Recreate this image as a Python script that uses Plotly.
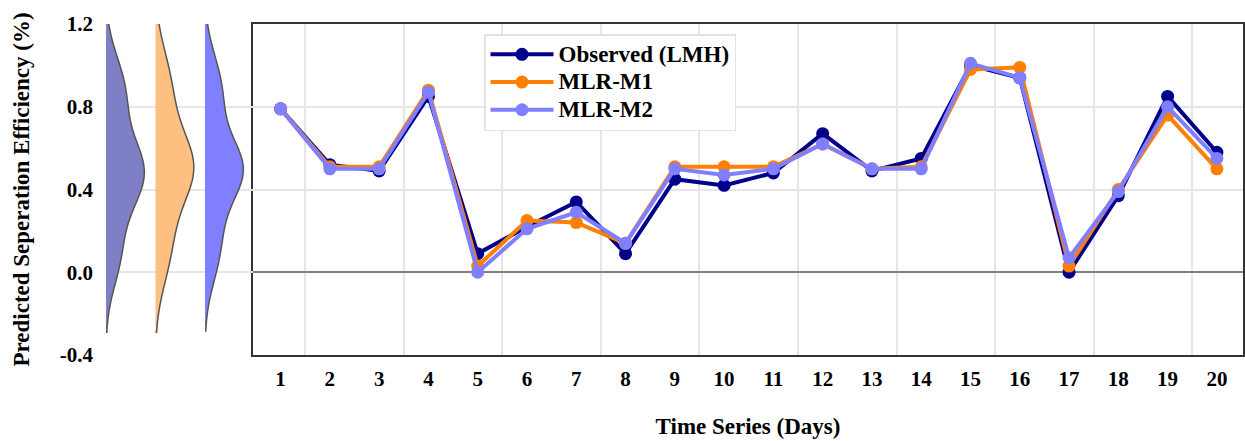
import plotly.graph_objects as go

# Daily separation efficiency: observed values and two MLR model predictions
days = list(range(1, 21))
observed = [0.79, 0.52, 0.49, 0.85, 0.09, 0.22, 0.34, 0.09, 0.45, 0.42,
            0.48, 0.67, 0.49, 0.55, 1.00, 0.94, 0.00, 0.37, 0.85, 0.58]
mlr_m1 = [0.79, 0.51, 0.51, 0.88, 0.03, 0.25, 0.24, 0.14, 0.51, 0.51,
          0.51, 0.62, 0.50, 0.51, 0.98, 0.99, 0.03, 0.40, 0.76, 0.50]
mlr_m2 = [0.79, 0.50, 0.50, 0.87, 0.00, 0.21, 0.29, 0.14, 0.50, 0.47,
          0.50, 0.62, 0.50, 0.50, 1.01, 0.94, 0.07, 0.39, 0.80, 0.55]

series_names = ["Observed (LMH)", "MLR-M1", "MLR-M2"]
series_values = [observed, mlr_m1, mlr_m2]
line_colors = ["#00008B", "#FF7F00", "#7F7FFF"]
fill_colors = ["#7F7FC6", "#FFBF80", "#7F7FFF"]
kde_bandwidths = [0.145, 0.16, 0.142]

x_tick_labels = [str(d) for d in days]
y_tick_vals = [-0.4, 0.0, 0.4, 0.8, 1.2]
y_tick_labels = ["-0.4", "0.0", "0.4", "0.8", "1.2"]

FONT = "Liberation Serif"
W, H = 1245, 441
GRID = "#E6E6E6"


def legend_label(text):
    # larger glyphs than the legend's row pitch font, keeping rows compact
    return f'<span style="font-size:23px">{text}</span>'


fig = go.Figure()

# Half-violin density profiles on the narrow left panel
for i, (name, vals) in enumerate(zip(series_names, series_values)):
    fig.add_trace(go.Violin(
        y=vals, x0=i, name=name, side="positive", width=1.55,
        bandwidth=kde_bandwidths[i],
        fillcolor=fill_colors[i], opacity=1,
        line=dict(color="#555555", width=1.5),
        points=False, box_visible=False, meanline_visible=False,
        showlegend=False, hoverinfo="skip",
        xaxis="x2", yaxis="y2",
    ))

# Time series lines with markers on the main panel
for name, vals, color in zip(series_names, series_values, line_colors):
    fig.add_trace(go.Scatter(
        x=days, y=vals, name=legend_label(name), mode="lines+markers",
        line=dict(color=color, width=4),
        marker=dict(color=color, size=13),
        xaxis="x", yaxis="y",
    ))

# panel geometry in pixels
main_left, main_right = 253, 1243
top_px, bottom_px = 24, 355
dens_left = 106

y_dom = [1 - bottom_px / H, 1 - top_px / H]

fig.update_layout(
    width=W, height=H,
    margin=dict(l=0, r=0, t=0, b=0),
    paper_bgcolor="white", plot_bgcolor="white",
    font=dict(family=FONT, size=21, color="black"),
    showlegend=True,
    legend=dict(
        x=484 / W, y=1 - 34 / H, xanchor="left", yanchor="top",
        bgcolor="white", bordercolor="#E3E3E3", borderwidth=1.5,
        font=dict(family=FONT, size=19, color="black", weight="bold"),
        tracegroupgap=0, itemwidth=63,
    ),
    xaxis=dict(
        domain=[main_left / W, main_right / W], range=[0.44, 20.53],
        tickmode="array", tickvals=days, ticktext=x_tick_labels,
        showgrid=False, zeroline=False,
        minor=dict(tickvals=[d + 0.5 for d in days[::2]], showgrid=True,
                   gridcolor=GRID, gridwidth=1.5, ticks=""),
        showline=True, mirror=True, linecolor="#333333", linewidth=2,
        ticks="", ticklabelstandoff=4,
        tickfont=dict(family=FONT, size=21, weight="bold"),
        title=dict(text="<b>Time Series (Days)</b>", standoff=28,
                   font=dict(family=FONT, size=23)),
        automargin=False, anchor="y",
    ),
    yaxis=dict(
        domain=y_dom, range=[-0.4, 1.2],
        tickmode="array", tickvals=y_tick_vals, showticklabels=False,
        showgrid=True, gridcolor=GRID, gridwidth=1.5,
        zeroline=True, zerolinecolor="#808080", zerolinewidth=1.5,
        showline=True, mirror=True, linecolor="#333333", linewidth=2,
        ticks="", automargin=False, anchor="x",
    ),
    xaxis2=dict(
        domain=[dens_left / W, main_left / W], range=[0, 2.97],
        visible=False, showgrid=False, zeroline=False, anchor="y2",
    ),
    yaxis2=dict(
        domain=y_dom, range=[-0.4, 1.2], anchor="x2",
        tickmode="array", tickvals=y_tick_vals, ticktext=y_tick_labels,
        showgrid=True, gridcolor=GRID, gridwidth=1.5, zeroline=False,
        showline=False, ticks="", ticklabelstandoff=12,
        tickfont=dict(family=FONT, size=21, weight="bold"),
        title=dict(text="<b>Predicted Seperation Efficiency (%)</b>",
                   standoff=23, font=dict(family=FONT, size=23)),
        automargin=False,
    ),
)

fig.write_html("out.html")
